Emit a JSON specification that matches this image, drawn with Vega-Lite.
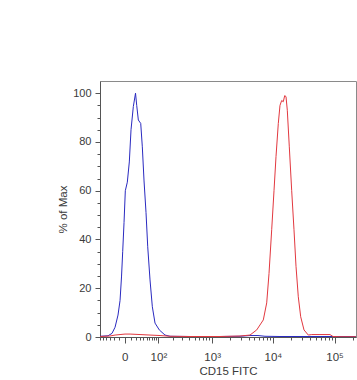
{
  "$schema": "https://vega.github.io/schema/vega-lite/v6.json",
  "width": 256,
  "height": 256,
  "autosize": {"type": "none"},
  "padding": {"left": 100, "top": 81, "right": 1, "bottom": 43},
  "background": "white",
  "config": {
    "view": {"stroke": "#8a8a8a", "strokeWidth": 1},
    "font": "Liberation Sans",
    "axis": {
      "labelFont": "Liberation Sans",
      "labelFontSize": 11,
      "labelColor": "#3a3a3a",
      "titleFont": "Liberation Sans",
      "titleFontSize": 11.5,
      "titleFontWeight": "normal",
      "titleColor": "#3a3a3a",
      "domainColor": "#555555",
      "tickColor": "#555555",
      "grid": false,
      "labelOverlap": false,
      "labelFlush": false,
      "labelBound": false
    }
  },
  "data": {
    "values": [
      {"series": "control", "x": -60, "pct": 0.3},
      {"series": "control", "x": -34.8, "pct": 0.5},
      {"series": "control", "x": -24.5, "pct": 1.5},
      {"series": "control", "x": -17.6, "pct": 4},
      {"series": "control", "x": -11.6, "pct": 9},
      {"series": "control", "x": -7.8, "pct": 15},
      {"series": "control", "x": -5.2, "pct": 25},
      {"series": "control", "x": -3.3, "pct": 35},
      {"series": "control", "x": -1.2, "pct": 47},
      {"series": "control", "x": 0.75, "pct": 60},
      {"series": "control", "x": 3.9, "pct": 63.5},
      {"series": "control", "x": 7.3, "pct": 71.8},
      {"series": "control", "x": 10.4, "pct": 85},
      {"series": "control", "x": 14.9, "pct": 94.5},
      {"series": "control", "x": 19.6, "pct": 100},
      {"series": "control", "x": 22.3, "pct": 95},
      {"series": "control", "x": 26.2, "pct": 89},
      {"series": "control", "x": 32.4, "pct": 87.6},
      {"series": "control", "x": 36.8, "pct": 78},
      {"series": "control", "x": 41.9, "pct": 64},
      {"series": "control", "x": 48.2, "pct": 51},
      {"series": "control", "x": 54, "pct": 37},
      {"series": "control", "x": 62.4, "pct": 23.4},
      {"series": "control", "x": 71.6, "pct": 12.4},
      {"series": "control", "x": 83.4, "pct": 5.7},
      {"series": "control", "x": 104.8, "pct": 2.9},
      {"series": "control", "x": 139, "pct": 0.8},
      {"series": "control", "x": 176, "pct": 0.3},
      {"series": "control", "x": 415, "pct": 0.2},
      {"series": "control", "x": 1354, "pct": 0.2},
      {"series": "control", "x": 2900, "pct": 0.3},
      {"series": "control", "x": 4228, "pct": 0.6},
      {"series": "control", "x": 5710, "pct": 0.6},
      {"series": "control", "x": 7424, "pct": 0.3},
      {"series": "control", "x": 13026, "pct": 0.2},
      {"series": "control", "x": 39960, "pct": 0.2},
      {"series": "control", "x": 122560, "pct": 0.2},
      {"series": "control", "x": 222600, "pct": 0.2},
      {"series": "CD15", "x": -60, "pct": 0.2},
      {"series": "CD15", "x": -30, "pct": 0.4},
      {"series": "CD15", "x": -17.6, "pct": 0.8},
      {"series": "CD15", "x": -7.8, "pct": 1.0},
      {"series": "CD15", "x": 0.3, "pct": 1.2},
      {"series": "CD15", "x": 8.6, "pct": 1.2},
      {"series": "CD15", "x": 30.5, "pct": 1.0},
      {"series": "CD15", "x": 62.4, "pct": 0.8},
      {"series": "CD15", "x": 108.7, "pct": 0.6},
      {"series": "CD15", "x": 176, "pct": 0.3},
      {"series": "CD15", "x": 415, "pct": 0.2},
      {"series": "CD15", "x": 1354, "pct": 0.2},
      {"series": "CD15", "x": 2900, "pct": 0.4},
      {"series": "CD15", "x": 4228, "pct": 0.8},
      {"series": "CD15", "x": 5440, "pct": 2.9},
      {"series": "CD15", "x": 6970, "pct": 7},
      {"series": "CD15", "x": 7920, "pct": 14},
      {"series": "CD15", "x": 8630, "pct": 26},
      {"series": "CD15", "x": 9545, "pct": 44},
      {"series": "CD15", "x": 10410, "pct": 60},
      {"series": "CD15", "x": 11220, "pct": 74},
      {"series": "CD15", "x": 12225, "pct": 87.6},
      {"series": "CD15", "x": 13025, "pct": 95},
      {"series": "CD15", "x": 13875, "pct": 97},
      {"series": "CD15", "x": 14735, "pct": 96.5},
      {"series": "CD15", "x": 15530, "pct": 99},
      {"series": "CD15", "x": 16310, "pct": 98.6},
      {"series": "CD15", "x": 17120, "pct": 93},
      {"series": "CD15", "x": 18450, "pct": 78},
      {"series": "CD15", "x": 20180, "pct": 60},
      {"series": "CD15", "x": 21990, "pct": 44},
      {"series": "CD15", "x": 23700, "pct": 29},
      {"series": "CD15", "x": 25820, "pct": 16.5},
      {"series": "CD15", "x": 28250, "pct": 8.3},
      {"series": "CD15", "x": 31960, "pct": 2.9},
      {"series": "CD15", "x": 37520, "pct": 0.8},
      {"series": "CD15", "x": 42600, "pct": 1.0},
      {"series": "CD15", "x": 58000, "pct": 1.0},
      {"series": "CD15", "x": 84250, "pct": 1.0},
      {"series": "CD15", "x": 94200, "pct": 0.2},
      {"series": "CD15", "x": 122560, "pct": 0.1},
      {"series": "CD15", "x": 222600, "pct": 0.1}
    ]
  },
  "mark": {"type": "line", "strokeWidth": 1, "clip": true},
  "encoding": {
    "x": {
      "field": "x",
      "type": "quantitative",
      "title": "CD15 FITC",
      "scale": {"type": "symlog", "constant": 40, "domain": [-61, 222600], "nice": false, "zero": false},
      "axis": {
        "values": [-60, -50, -40, -30, -20, -10, 0, 10, 20, 30, 40, 50, 60, 70, 80, 90, 100, 200, 300, 400, 500, 600, 700, 800, 900, 1000, 2000, 3000, 4000, 5000, 6000, 7000, 8000, 9000, 10000, 20000, 30000, 40000, 50000, 60000, 70000, 80000, 90000, 100000, 200000],
        "labelExpr": "datum.value==0?'0':datum.value==100?'10²':datum.value==1000?'10³':datum.value==10000?'10⁴':datum.value==100000?'10⁵':''",
        "tickSize": {"condition": {"test": "indexof([0,100,1000,10000,100000], datum.value) >= 0", "value": 6}, "value": 3},
        "labelFontSize": 11.5,
        "labelPadding": 8,
        "titlePadding": 3
      }
    },
    "y": {
      "field": "pct",
      "type": "quantitative",
      "title": "% of Max",
      "scale": {"domain": [0, 105], "nice": false},
      "axis": {
        "values": [0, 5, 10, 15, 20, 25, 30, 35, 40, 45, 50, 55, 60, 65, 70, 75, 80, 85, 90, 95, 100],
        "labelExpr": "datum.value % 20 == 0 ? datum.label : ''",
        "tickSize": {"condition": {"test": "datum.value % 20 == 0", "value": 5}, "value": 3},
        "labelPadding": 4,
        "titlePadding": 4
      }
    },
    "color": {
      "field": "series",
      "type": "nominal",
      "scale": {"domain": ["CD15", "control"], "range": ["#e2383f", "#2a2ac0"]},
      "legend": null
    }
  }
}
